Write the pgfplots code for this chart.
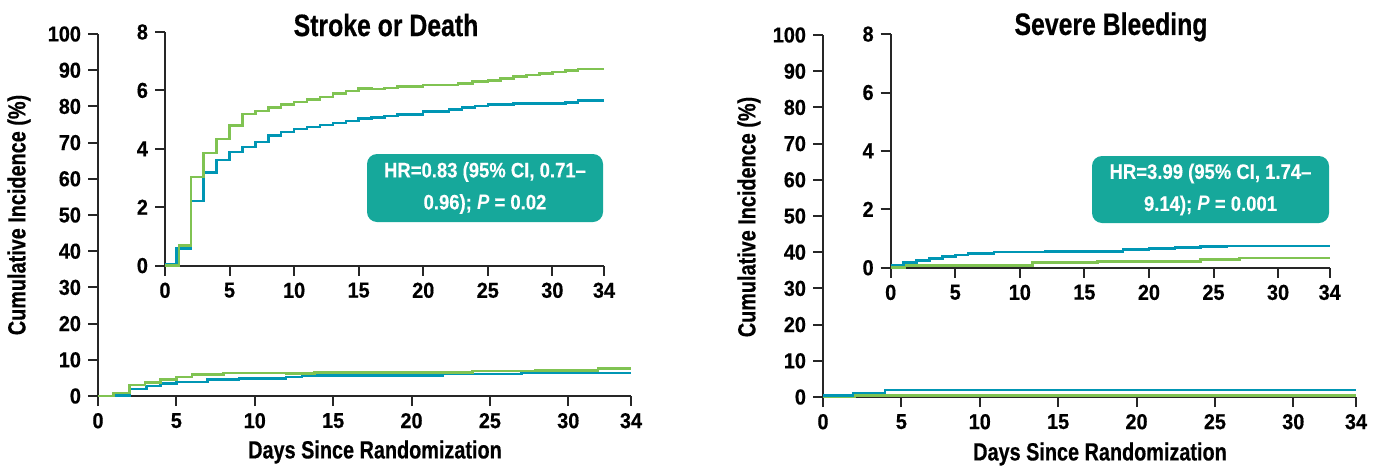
\documentclass[border=0pt]{standalone}
\usepackage{fontspec}
\setmainfont{Liberation Sans}[FakeStretch=0.8, BoldFeatures={FakeBold=0.5}]
\newfontfamily\numfont{Liberation Sans}[FakeStretch=0.92, BoldFeatures={FakeBold=0.5}]
\newfontfamily\boxfont{Liberation Sans}[FakeStretch=0.88, BoldFeatures={FakeBold=0.3}]
\usepackage{pgfplots}
\pgfplotsset{compat=1.18}
\definecolor{cgreen}{RGB}{128,195,82}
\definecolor{cblue}{RGB}{0,150,180}
\definecolor{cteal}{RGB}{22,168,155}
\newcommand{\tlfont}{\numfont\fontsize{10.8}{12}\selectfont\bfseries}
\pgfplotsset{
  kmbase/.style={
    scale only axis, axis x line=bottom, axis y line=left,
    axis line style={-, line width=1pt, black!85},
    every tick/.style={line width=1pt, black!85},
    tick align=outside, major tick length=5pt,
    xmin=0, xmax=34, xtick={0,5,10,15,20,25,30,34},
    ymin=0,
    xticklabel style={font=\tlfont},
    yticklabel style={font=\tlfont},
    /pgf/number format/assume math mode=true,
    clip=false,
  },
  kmline/.style={const plot, no marks, line width=1.25pt},
  mainax/.style={kmbase, width=266.5pt, height=181pt, ymax=100, ytick={0,10,...,100}},
  insetax/.style={kmbase, width=219.5pt, height=116.8pt, ymax=8, ytick={0,2,4,6,8}},
}
\begin{document}
\begin{tikzpicture}
\path[use as bounding box] (0,0) rectangle (691pt,234pt);
% ---------- Left main ----------
\begin{axis}[mainax, at={(49pt,36pt)}, anchor=south west]
\addplot[kmline, cblue] coordinates {(0,0) (1,0.2) (2,1.9) (3.1,2.8) (4,3.5) (5,3.9) (7,4.5) (9,4.9) (12,5.3) (13,5.6) (22,6.1) (27,6.3) (34,6.3)};
\addplot[kmline, cgreen] coordinates {(0,0) (1,0.8) (2,3.0) (3,3.8) (4,4.6) (5,5.3) (6,6.0) (8,6.3) (12,6.2) (13.8,6.5) (21.8,6.5) (23.9,6.9) (27.9,7.0) (31.9,7.6) (34,7.6)};
\end{axis}
% ---------- Left inset ----------
\begin{axis}[insetax, at={(82.5pt,101.2pt)}, anchor=south west]
\addplot[kmline, cblue] coordinates {(0,0.05) (0.9,0.59) (2,2.21) (3,3.19) (4,3.62) (5,3.89) (6,4.07) (7,4.23) (8,4.45) (9,4.58) (10,4.67) (11,4.75) (12,4.82) (13,4.89) (14,4.96) (15,5.03) (16,5.08) (17,5.12) (18,5.18) (20,5.27) (22,5.34) (23,5.41) (24,5.46) (25,5.52) (27,5.55) (31,5.59) (32,5.66) (34,5.66)};
\addplot[kmline, cgreen] coordinates {(0,0) (1.1,0.69) (2,3.03) (3,3.85) (4,4.33) (5,4.79) (6,5.19) (7,5.30) (8,5.42) (9,5.51) (10,5.60) (11,5.69) (12,5.78) (13,5.89) (14,5.98) (15,6.07) (16,6.04) (17,6.09) (18,6.14) (20,6.18) (22.7,6.23) (23.8,6.30) (25,6.34) (26,6.41) (27,6.47) (28,6.53) (29,6.58) (30,6.63) (31,6.69) (32,6.73) (34,6.73)};
\end{axis}
% ---------- Right main ----------
\begin{axis}[mainax, at={(411.5pt,35.5pt)}, anchor=south west]
\addplot[kmline, cgreen] coordinates {(0,0.15) (2,0.45) (34,0.45)};
\addplot[kmline, cblue] coordinates {(0,0.45) (1.9,1.1) (3.95,2.0) (34,2.0)};
\end{axis}
% ---------- Right inset ----------
\begin{axis}[insetax, at={(445.35pt,100.15pt)}, anchor=south west]
\addplot[kmline, cgreen] coordinates {(0,0) (1.1,0.08) (11,0.17) (16,0.22) (24,0.28) (27,0.33) (34,0.33)};
\addplot[kmline, cblue] coordinates {(0,0.09) (1,0.17) (2,0.25) (3,0.31) (4,0.38) (5,0.44) (6,0.48) (8,0.53) (12,0.56) (18,0.62) (20,0.65) (22,0.69) (24,0.72) (26,0.75) (34,0.75)};
\end{axis}
% ---------- Titles, labels, boxes ----------
\node[font=\fontsize{15.5}{18}\selectfont\bfseries] at (193pt,221.5pt) {Stroke or Death};
\node[font=\fontsize{15.5}{18}\selectfont\bfseries] at (555.5pt,220.5pt) {Severe Bleeding};
\node[font=\fontsize{12.4}{14}\selectfont\bfseries] at (187.5pt,8pt) {Days Since Randomization};
\node[font=\fontsize{12.4}{14}\selectfont\bfseries] at (550pt,7pt) {Days Since Randomization};
\node[font=\fontsize{12.4}{14}\selectfont\bfseries, rotate=90] at (9.5pt,126.5pt) {Cumulative Incidence (\%)};
\node[font=\fontsize{12.4}{14}\selectfont\bfseries, rotate=90] at (374.5pt,125.5pt) {Cumulative Incidence (\%)};
\node[fill=cteal, rounded corners=5pt, minimum width=118pt, minimum height=34pt, inner sep=0pt, text=white, align=center, font=\boxfont\fontsize{10.5}{16}\selectfont\bfseries] at (242.5pt,140pt) {HR=0.83 (95\% CI, 0.71–\\0.96); \textit{P} = 0.02};
\node[fill=cteal, rounded corners=5pt, minimum width=118.5pt, minimum height=33.5pt, inner sep=0pt, text=white, align=center, font=\boxfont\fontsize{10.5}{16}\selectfont\bfseries] at (605.25pt,139.25pt) {HR=3.99 (95\% CI, 1.74–\\9.14); \textit{P} = 0.001};
\end{tikzpicture}
\end{document}
